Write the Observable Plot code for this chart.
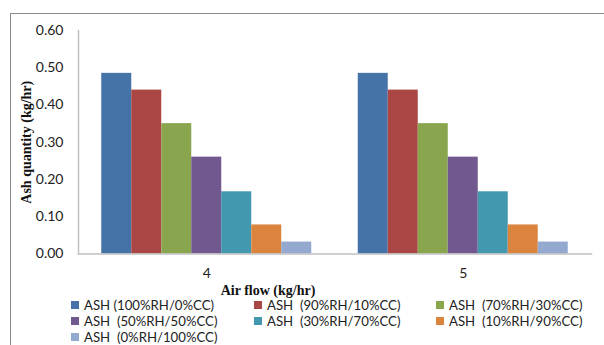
<!DOCTYPE html>
<html>
<head>
<meta charset="utf-8">
<script src="https://cdn.jsdelivr.net/npm/d3@7"></script>
<script src="https://cdn.jsdelivr.net/npm/@observablehq/plot@0.6"></script>
<style>
  html, body { margin: 0; padding: 0; background: #fff; overflow: hidden; }
  #wrap { position: relative; width: 604px; height: 345px; }
  #border { position: absolute; left: 10px; top: 13px; width: 800px; height: 500px;
            border: 1px solid #8a8a8a; box-sizing: border-box; pointer-events: none; }
  #chart { position: absolute; left: 0; top: 0; }
  #legend { position: absolute; left: 71px; top: 297px;
            display: grid; grid-template-columns: 183px 182px 170px; grid-auto-rows: 16px;
            font-family: Lato, sans-serif; font-size: 13.2px; line-height: 12px; color: #222; }
  .item { display: flex; align-items: center; white-space: pre; }
  .sw { width: 8px; height: 8px; margin-right: 5px; flex: none; }
</style>
</head>
<body>
<div id="wrap">
  <div id="border"></div>
  <div id="chart"></div>
  <div id="legend"></div>
</div>
<script>
// Air flow categories (kg/hr)
const airFlows = ["4", "5"];

// Feed blends: rice husk (RH) / coconut coir (CC)
const series = [
  "ASH (100%RH/0%CC)",
  "ASH  (90%RH/10%CC)",
  "ASH  (70%RH/30%CC)",
  "ASH  (50%RH/50%CC)",
  "ASH  (30%RH/70%CC)",
  "ASH  (10%RH/90%CC)",
  "ASH  (0%RH/100%CC)"
];

// Ash quantity (kg/hr) per blend at each air flow
const ashAt4 = [0.485, 0.44, 0.35, 0.26, 0.167, 0.078, 0.032];
const ashAt5 = [0.485, 0.44, 0.35, 0.26, 0.167, 0.078, 0.032];

const colors = ["#4572A7", "#AA4643", "#89A54E", "#71588F", "#4198AF", "#DB843D", "#93A9CF"];

const yTicks = [0, 0.1, 0.2, 0.3, 0.4, 0.5, 0.6];

const yTitle = "Ash quantity (kg/hr)";
const xTitle = "Air flow (kg/hr)";

const rows = [
  ...series.map((s, i) => ({flow: airFlows[0], series: s, ash: ashAt4[i]})),
  ...series.map((s, i) => ({flow: airFlows[1], series: s, ash: ashAt5[i]}))
];

const chart = Plot.plot({
  width: 604,
  height: 298,
  marginTop: 30,
  marginBottom: 44.5,
  marginLeft: 78,
  marginRight: 13,
  style: {fontFamily: "Lato, sans-serif", fontSize: "14px", color: "#222", background: "transparent"},
  // facets tile the whole frame; the gap around each group comes from the inner x scale
  fx: {domain: airFlows, padding: 0, round: false, label: null},
  x: {domain: series, paddingInner: 0, paddingOuter: 0.775, round: false, axis: null},
  y: {domain: [0, 0.6]},
  color: {domain: series, range: colors},
  marks: [
    Plot.barY(rows, {fx: "flow", x: "series", y: "ash", fill: "series"}),
    // baseline (y = 0 is the bottom of the frame) and the vertical value axis line
    Plot.frame({anchor: "bottom", facet: "super", stroke: "#c0c0c0", strokeWidth: 1.5}),
    Plot.frame({anchor: "left", facet: "super", stroke: "#c0c0c0", strokeWidth: 1.5}),
    Plot.axisY({ticks: yTicks, tickFormat: d3.format(".2f"), tickSize: 0, tickPadding: 15, label: null}),
    Plot.axisFx({anchor: "bottom", tickSize: 0, tickPadding: 14, label: null}),
    Plot.text([yTitle], {
      frameAnchor: "left", rotate: -90, dx: -52, textAnchor: "middle", lineAnchor: "middle", facet: "super",
      fontFamily: "Liberation Serif, serif", fontWeight: "bold", fontSize: 14, fill: "#111"
    }),
    Plot.text([xTitle], {
      frameAnchor: "bottom", dx: -67, dy: 36.5, textAnchor: "middle", lineAnchor: "middle", facet: "super",
      fontFamily: "Liberation Serif, serif", fontWeight: "bold", fontSize: 14, fill: "#111"
    })
  ]
});
document.getElementById("chart").appendChild(chart);

// Legend: three columns, in series order
const legend = document.getElementById("legend");
series.forEach((s, i) => {
  const item = document.createElement("div");
  item.className = "item";
  const sw = document.createElement("span");
  sw.className = "sw";
  sw.style.background = colors[i];
  item.appendChild(sw);
  item.appendChild(document.createTextNode(s));
  legend.appendChild(item);
});
</script>
</body>
</html>
